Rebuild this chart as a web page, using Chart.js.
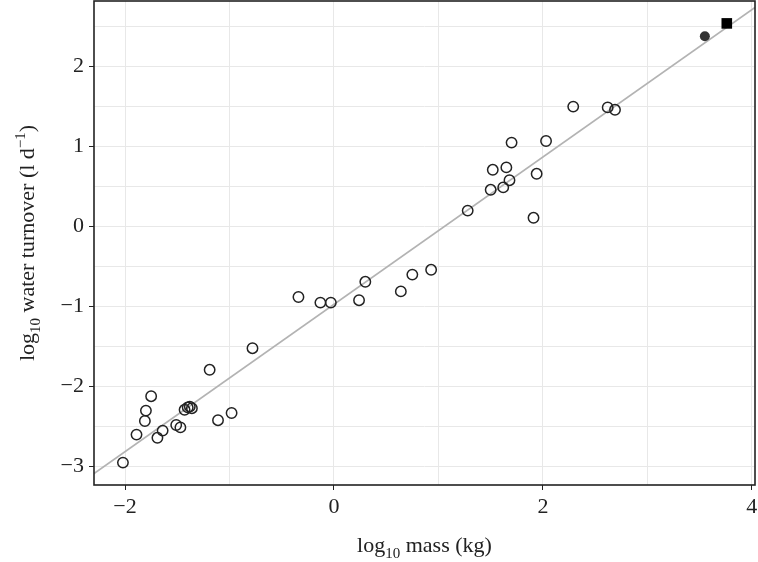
<!DOCTYPE html>
<html>
<head>
<meta charset="utf-8">
<script src="https://cdn.jsdelivr.net/npm/chart.js@4/dist/chart.umd.min.js"></script>
<style>
  html, body { margin: 0; padding: 0; background: #fff; }
  #wrap { width: 758px; height: 562px; }
</style>
</head>
<body>
<div id="wrap"><canvas id="chart" width="758" height="562"></canvas></div>
<script>
// log10 mass (kg) and log10 water turnover (l/d)
const massOpen = [2.29, 2.62, 2.69, 1.70, 2.03, 1.52, 1.65, 1.68, 1.94, 1.62, 1.50, 1.28, 1.91,
  0.93, 0.75, 0.64, 0.30, 0.24, -0.03, -0.13, -0.34, -0.78, -1.19,
  -1.75, -1.80, -1.81, -1.89, -2.02, -1.64, -1.69, -1.51, -1.47, -1.43, -1.40, -1.38, -1.36, -1.11, -0.98];
const turnoverOpen = [1.50, 1.49, 1.46, 1.05, 1.07, 0.71, 0.74, 0.58, 0.66, 0.49, 0.46, 0.20, 0.11,
  -0.54, -0.60, -0.81, -0.69, -0.92, -0.95, -0.95, -0.88, -1.52, -1.79,
  -2.12, -2.30, -2.43, -2.60, -2.95, -2.55, -2.64, -2.48, -2.51, -2.29, -2.26, -2.25, -2.27, -2.42, -2.33];

const massFilled = [3.55];
const turnoverFilled = [2.38];
const massSquare = [3.76];
const turnoverSquare = [2.54];

// regression line ends
const fitMass = [-2.30, 4.03];
const fitTurnover = [-3.09, 2.74];

const xTicks = [-2, -1, 0, 1, 2, 3, 4];
const xLabelled = [-2, 0, 2, 4];
const yTicks = [-3, -2.5, -2, -1.5, -1, -0.5, 0, 0.5, 1, 1.5, 2, 2.5];
const yLabelled = [-3, -2, -1, 0, 1, 2];

const pts = (xs, ys) => xs.map((x, i) => ({ x: x, y: ys[i] }));
const minus = v => String(v).replace('-', '\u2212');
const FONT = '"Liberation Serif", "DejaVu Serif", serif';

// draws text pieces (with sub/superscripts) centred at x,y
function richText(ctx, parts, x, y) {
  let w = 0;
  parts.forEach(p => { ctx.font = p.size + 'px ' + FONT; w += ctx.measureText(p.t).width; });
  let cx = x - w / 2;
  ctx.textBaseline = 'alphabetic';
  ctx.textAlign = 'left';
  parts.forEach(p => {
    ctx.font = p.size + 'px ' + FONT;
    ctx.fillText(p.t, cx, y + (p.dy || 0));
    cx += ctx.measureText(p.t).width;
  });
}

const framePlugin = {
  id: 'frame',
  afterDraw(chart) {
    const { ctx, chartArea: a } = chart;
    ctx.save();
    ctx.strokeStyle = '#222';
    ctx.lineWidth = 1.6;
    ctx.strokeRect(a.left, a.top, a.right - a.left, a.bottom - a.top);
    ctx.fillStyle = '#222';
    // x title
    richText(ctx, [
      { t: 'log', size: 22 }, { t: '10', size: 15, dy: 6 }, { t: ' mass (kg)', size: 22 }
    ], (a.left + a.right) / 2, 552);
    // y title
    ctx.translate(34, (a.top + a.bottom) / 2);
    ctx.rotate(-Math.PI / 2);
    richText(ctx, [
      { t: 'log', size: 22 }, { t: '10', size: 15, dy: 6 }, { t: ' water turnover (l d', size: 22 },
      { t: '\u22121', size: 15, dy: -9 }, { t: ')', size: 22 }
    ], 0, 0);
    ctx.restore();
  }
};

new Chart(document.getElementById('chart'), {
  type: 'scatter',
  data: {
    datasets: [
      {
        data: pts(massOpen, turnoverOpen),
        pointStyle: 'circle', pointRadius: 5.2, borderWidth: 1.5,
        borderColor: '#222', backgroundColor: 'rgba(0,0,0,0)', order: 1
      },
      {
        data: pts(massFilled, turnoverFilled),
        pointStyle: 'circle', pointRadius: 5, borderWidth: 0,
        backgroundColor: '#333', borderColor: '#333', order: 1
      },
      {
        data: pts(massSquare, turnoverSquare),
        pointStyle: 'rect', pointRadius: 7.5, borderWidth: 0,
        backgroundColor: '#000', borderColor: '#000', order: 1
      },
      {
        type: 'line',
        data: pts(fitMass, fitTurnover),
        borderColor: '#b3b3b3', borderWidth: 1.6, pointRadius: 0, fill: false, order: 2
      }
    ]
  },
  options: {
    responsive: false,
    animation: false,
    layout: { autoPadding: false, padding: { left: 0, top: 1, right: 3, bottom: 0 } },
    plugins: { legend: { display: false }, tooltip: { enabled: false } },
    scales: {
      x: {
        type: 'linear', min: -2.297, max: 4.03,
        afterBuildTicks: s => { s.ticks = xTicks.map(v => ({ value: v })); },
        afterFit: s => { s.height = 77; s.paddingLeft = 0; s.paddingRight = 0; },
        grid: {
          color: '#e8e8e8', lineWidth: 1, tickLength: 5,
          tickColor: c => xLabelled.includes(c.tick && c.tick.value) ? '#222' : 'rgba(0,0,0,0)'
        },
        border: { display: false },
        ticks: {
          color: '#222', padding: 4, maxRotation: 0, autoSkip: false,
          font: { family: FONT, size: 22 },
          callback: v => xLabelled.includes(v) ? minus(v) : ''
        }
      },
      y: {
        type: 'linear', min: -3.23, max: 2.82,
        afterBuildTicks: s => { s.ticks = yTicks.map(v => ({ value: v })); },
        afterFit: s => { s.width = 94; s.paddingTop = 0; s.paddingBottom = 0; },
        grid: {
          color: '#e8e8e8', lineWidth: 1, tickLength: 5,
          tickColor: c => yLabelled.includes(c.tick && c.tick.value) ? '#222' : 'rgba(0,0,0,0)'
        },
        border: { display: false },
        ticks: {
          color: '#222', padding: 5, autoSkip: false,
          font: { family: FONT, size: 22 },
          callback: v => yLabelled.includes(v) ? minus(v) : ''
        }
      }
    }
  },
  plugins: [framePlugin]
});
</script>
</body>
</html>
